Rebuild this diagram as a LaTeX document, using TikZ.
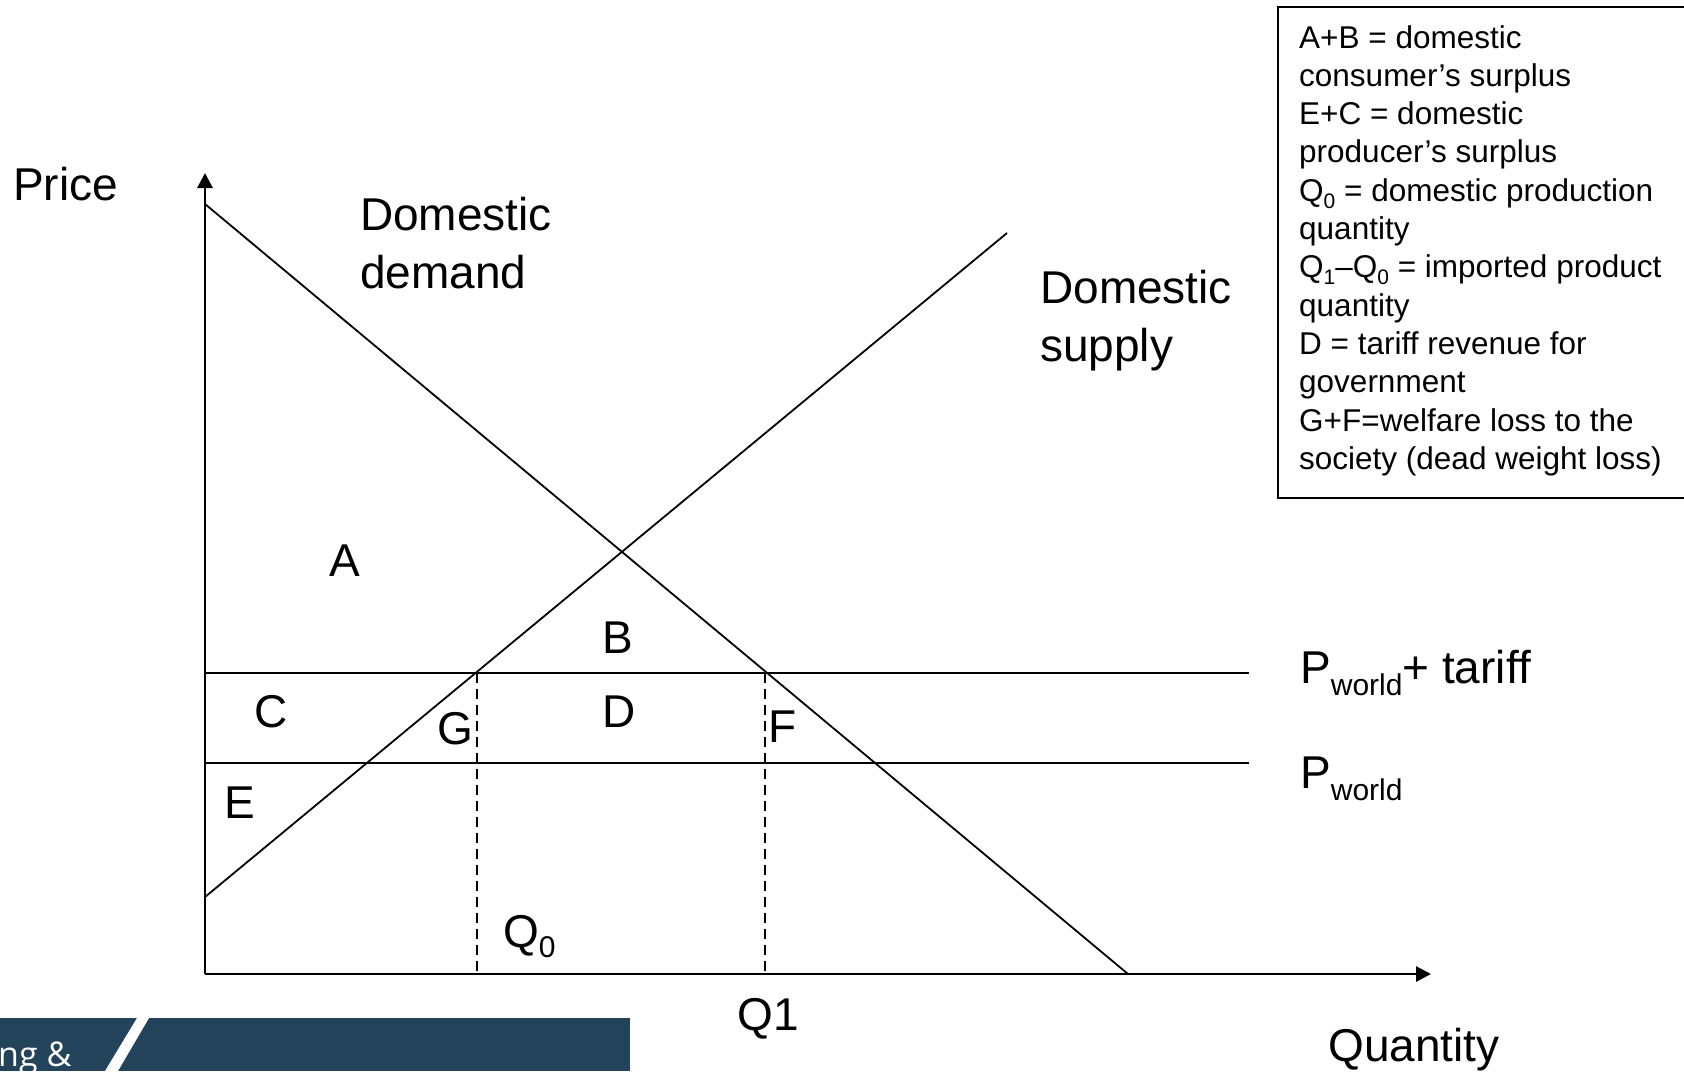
\documentclass[tikz,border=0pt]{standalone}
\usepackage{fontspec}
\setmainfont{Liberation Sans}
\newfontfamily\bannerfont{Open Sans}
\usetikzlibrary{arrows.meta}
\definecolor{bannerblue}{RGB}{34,67,90}
\newcommand{\pw}{P\raisebox{-12pt}{\fontsize{30}{30}\selectfont world}}
\newcommand{\qsub}[1]{\raisebox{-10pt}{\fontsize{30}{30}\selectfont #1}}
\newcommand{\legsub}[1]{\raisebox{-7pt}{\fontsize{21}{21}\selectfont #1}}
\tikzset{>={Triangle[length=15pt,width=15pt]},every node/.style={font=\fontsize{46}{58}\selectfont,inner sep=0pt},axis/.style={line width=2.8pt,->},curve/.style={line width=1.8pt},guide/.style={line width=1.6pt,dash pattern=on 10pt off 6pt},legend/.style={font=\fontsize{31.5}{38.3}\selectfont,align=left,anchor=north west}}

\begin{document}
\begin{tikzpicture}[x=1pt,y=-1pt]
\useasboundingbox (0,0) rectangle (1684,1071);
% axes
\coordinate (O) at (205,974);\coordinate (ytop) at (205,173);\coordinate (xend) at (1431,974);
\draw[axis] (O)--(ytop);\draw[axis] (O)--(xend);
\node[anchor=base west] (price) at (13,200){Price};\node[anchor=base west] (quantity) at (1328,1061){Quantity};
% demand, supply and price lines
\coordinate (d0) at (205,204);\coordinate (d1) at (1128,974);\coordinate (s0) at (205,897);\coordinate (s1) at (1007,233);
\draw[curve] (d0)--(d1);\draw[curve] (s0)--(s1);
\coordinate (t0) at (205,673);\coordinate (t1) at (1249,673);\coordinate (w0) at (205,763);\coordinate (w1) at (1249,763);
\draw[curve] (t0)--(t1);\draw[curve] (w0)--(w1);
\coordinate (q0) at (477,673);\coordinate (q1) at (765,673);
\draw[guide] (q0)--(q0|-O);\draw[guide] (q1)--(q1|-O);
\node[anchor=north west,align=left] (demand) at (360,197){Domestic\\demand};
\node[anchor=north west,align=left] (supply) at (1040,270){Domestic\\supply};
\node[anchor=base west] (ptariff) at (1300,683){\pw+ tariff};\node[anchor=base west] (pworld) at (1300,788){\pw};
\node[anchor=base west] (lq0) at (503,947){Q\qsub{0}};\node (lq1) at (768,1019){Q1};
% areas
\node (A) at (345,561){A};\node (B) at (618,638){B};\node (C) at (271,712){C};\node (D) at (619,712){D};
\node (E) at (240,803){E};\node (G) at (455,729){G};\node (F) at (783,727){F};
% legend
\draw[line width=2pt] (1278,7) rectangle (1700,498);
\node[legend] (key) at (1299,25){A+B = domestic\\consumer’s surplus\\E+C = domestic\\producer’s surplus\\Q\legsub{0} = domestic production\\quantity\\Q\legsub{1}--Q\legsub{0} = imported product\\quantity\\D = tariff revenue for\\government\\G+F=welfare loss to the\\society (dead weight loss)};
% banner
\fill[bannerblue] (0,1018) rectangle (630,1071);
\fill[white] (137,1018)--(149,1018)--(118,1071)--(105,1071)--cycle;
\node[anchor=base west,text=white,font=\bannerfont\fontsize{34}{40}\selectfont] (banner) at (-2,1066){ng \&};
\end{tikzpicture}
\end{document}
